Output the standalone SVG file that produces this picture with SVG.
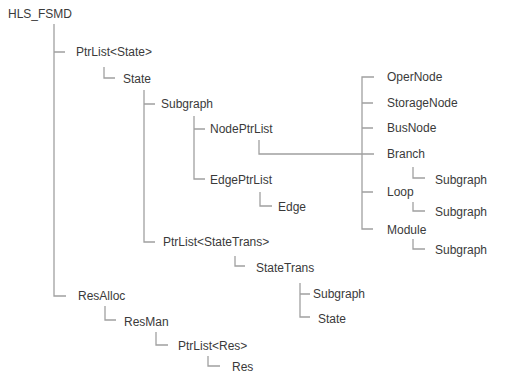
<svg xmlns="http://www.w3.org/2000/svg" width="505" height="375" viewBox="0 0 505 375">
<style>
text{font-family:"Liberation Sans",Arial,sans-serif;font-size:12px;fill:#3a3a3a}
.c path{fill:none;stroke:#a0a0a0;stroke-width:1.3}
</style>
<rect width="505" height="375" fill="#fff"/>
<g class="c" id="connectors">
<path d="M54 24V296H66M54 52H65"/>
<path d="M104 67V78H115"/>
<path d="M144 90V242H155M144 104H155"/>
<path d="M194 116V179H205M194 129H205"/>
<path d="M260 192V206H272"/>
<path d="M259 140V154H374"/>
<path d="M235 256V266H245"/>
<path d="M300 283V317H310M300 294H310"/>
<path d="M105 306V320H116"/>
<path d="M156 332V345H168"/>
<path d="M208 356V366H220"/>
<path d="M374 77H362V229H373M362 103H373M362 128H373M362 192H373"/>
<path d="M413 167V178H425M413 202V211H425M413 239V249H425"/>
</g>
<g id="n-hls"><text x="8" y="18">HLS_FSMD</text></g>
<g id="n-ptrlist-state"><text x="76" y="56">PtrList&lt;State&gt;</text></g>
<g id="n-state"><text x="123" y="83">State</text></g>
<g id="n-subgraph"><text x="161" y="108">Subgraph</text></g>
<g id="n-nodeptrlist"><text x="210" y="133">NodePtrList</text></g>
<g id="n-edgeptrlist"><text x="210" y="184">EdgePtrList</text></g>
<g id="n-edge"><text x="278" y="211">Edge</text></g>
<g id="n-ptrlist-statetrans"><text x="163" y="246">PtrList&lt;StateTrans&gt;</text></g>
<g id="n-statetrans"><text x="256" y="272">StateTrans</text></g>
<g id="n-st-subgraph"><text x="313" y="298">Subgraph</text></g>
<g id="n-st-state"><text x="318" y="323">State</text></g>
<g id="n-resalloc"><text x="78" y="300">ResAlloc</text></g>
<g id="n-resman"><text x="124" y="326">ResMan</text></g>
<g id="n-ptrlist-res"><text x="178" y="350">PtrList&lt;Res&gt;</text></g>
<g id="n-res"><text x="232" y="371">Res</text></g>
<g id="n-opernode"><text x="387" y="81">OperNode</text></g>
<g id="n-storagenode"><text x="387" y="107">StorageNode</text></g>
<g id="n-busnode"><text x="387" y="132">BusNode</text></g>
<g id="n-branch"><text x="387" y="158">Branch</text></g>
<g id="n-branch-subgraph"><text x="435" y="184">Subgraph</text></g>
<g id="n-loop"><text x="387" y="196">Loop</text></g>
<g id="n-loop-subgraph"><text x="435" y="216">Subgraph</text></g>
<g id="n-module"><text x="387" y="234">Module</text></g>
<g id="n-module-subgraph"><text x="435" y="254">Subgraph</text></g>
</svg>
